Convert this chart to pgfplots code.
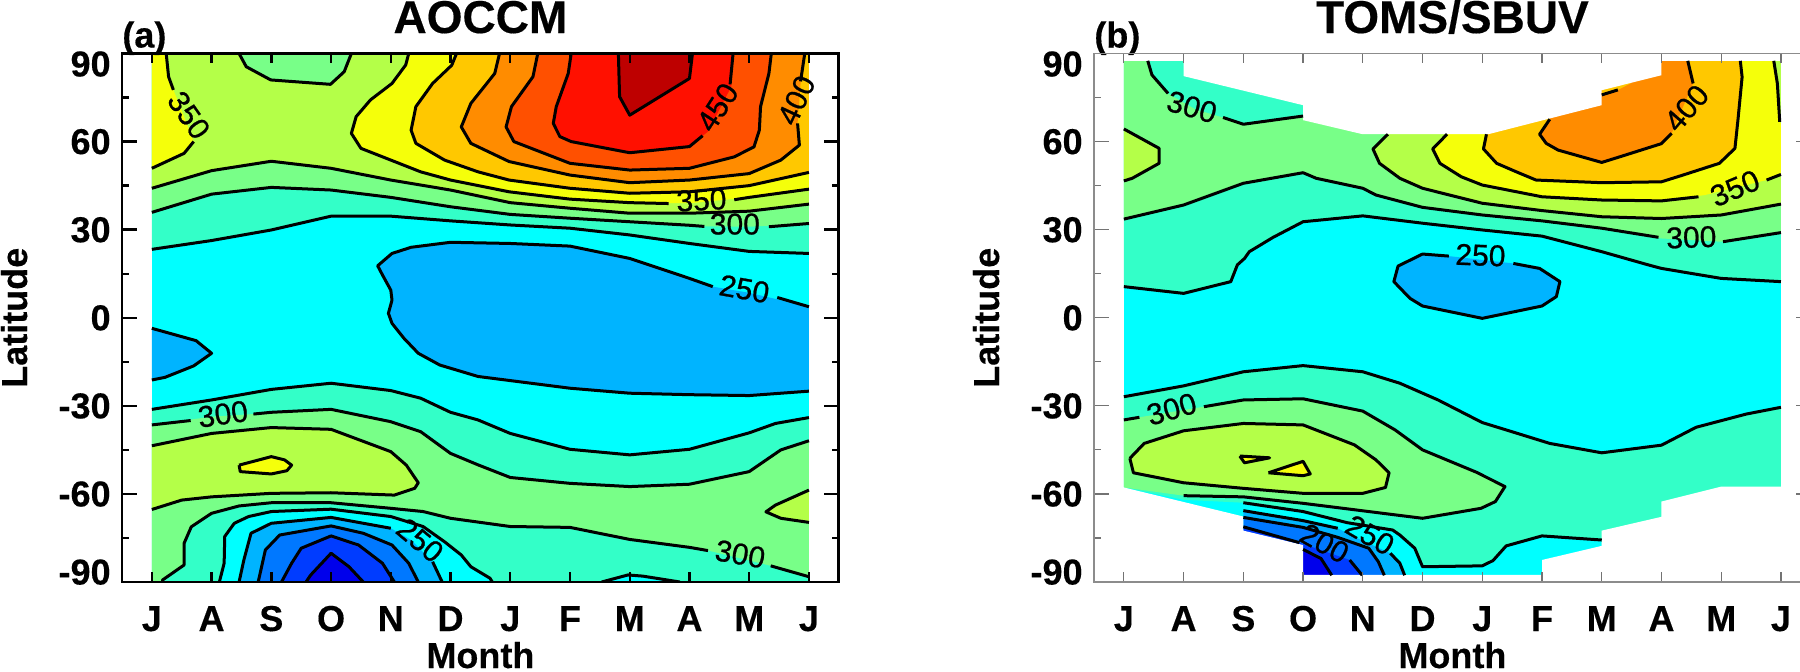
\documentclass[border=0pt]{standalone}
\usepackage{pgfplots}
\usepackage{fontspec}
\pgfplotsset{compat=1.18}
\setmainfont[BoldFeatures={FakeBold=0.35}]{Liberation Sans}
\newfontfamily\clabfont[FakeBold=0.8]{Liberation Sans}

\definecolor{cDeep}{RGB}{0,0,235}
\definecolor{cDark}{RGB}{0,60,255}
\definecolor{cMid}{RGB}{0,120,255}
\definecolor{cSky}{RGB}{0,180,255}
\definecolor{cCyan}{RGB}{0,255,255}
\definecolor{cTeal}{RGB}{51,255,200}
\definecolor{cGreen}{RGB}{120,255,136}
\definecolor{cLime}{RGB}{180,255,72}
\definecolor{cYellow}{RGB}{245,255,10}
\definecolor{cGold}{RGB}{255,200,0}
\definecolor{cOrange}{RGB}{255,140,0}
\definecolor{cRedOr}{RGB}{255,80,0}
\definecolor{cRed}{RGB}{255,16,0}
\definecolor{cDarkRed}{RGB}{190,0,0}

\newcommand{\yl}[2]{\raisebox{#1}[12.5pt][0pt]{#2}}
\newcommand{\clab}[3]{\node[rotate=#3,font=\clabfont\fontsize{15}{15}\selectfont,inner sep=0pt] at (axis cs:#1) {#2};}
% tick marks of different lengths on x, major y and minor y
\newcommand{\tickmarks}[1]{%
  \pgfplotsinvokeforeach{0,1,2,3,4,5,6,7,8,9,10,11}{
    \addplot[#1, mark=none] coordinates {(##1,-90) (##1,-86.6)};
    \addplot[#1, mark=none] coordinates {(##1,90) (##1,86.6)};
  }
  \pgfplotsinvokeforeach{-60,-30,0,30,60}{
    \addplot[#1, mark=none] coordinates {(-0.5,##1) (-0.25,##1)};
    \addplot[#1, mark=none] coordinates {(11.5,##1) (11.25,##1)};
  }
  \pgfplotsinvokeforeach{-75,-45,-15,15,45,75}{
    \addplot[#1, mark=none] coordinates {(-0.5,##1) (-0.38,##1)};
    \addplot[#1, mark=none] coordinates {(11.5,##1) (11.38,##1)};
  }
}

\pgfplotsset{
  panel/.style={
    scale only axis, width=358.4pt, height=264.25pt, anchor=south west,
    xmin=-0.5, xmax=11.5, ymin=-90, ymax=90,
    axis on top, clip mode=individual,
    major tick length=0pt,
    xtick={0,1,2,3,4,5,6,7,8,9,10,11},
    xticklabels={J,A,S,O,N,D,J,F,M,A,M,J},
    ytick={-90,-60,-30,0,30,60,90},
    yticklabels={\yl{5pt}{-90},\yl{0pt}{-60},\yl{0pt}{-30},\yl{0pt}{0},\yl{0pt}{30},\yl{0pt}{60},\yl{-5.2pt}{90}},
    ticklabel style={font=\bfseries\fontsize{18}{18}\selectfont},
    y tick label style={inner sep=0pt, xshift=-5.5pt},
    x tick label style={anchor=base, yshift=-24.5pt},
    xlabel={Month}, ylabel={Latitude},
    label style={font=\bfseries\fontsize{18}{18}\selectfont},
    xlabel style={at={(rel axis cs:0.5,0)}, anchor=base, yshift=-43pt},
    ylabel style={at={(rel axis cs:0,0.5)}, anchor=base, yshift=47.5pt},
    title style={at={(rel axis cs:0.5,1)}, anchor=base, yshift=4.25pt, font=\bfseries\fontsize{23}{23}\selectfont},
  },
  ctr/.style={black, line width=1.5pt, line join=round, line cap=butt, mark=none},
  reg/.style={fill=#1, draw=none, mark=none},
}

\begin{document}
\begin{tikzpicture}
\path[use as bounding box] (0pt,0pt) rectangle (900pt,335.5pt);
\clip (0pt,0pt) rectangle (900pt,335.5pt);

% ---------------- panel a, model
\begin{axis}[panel, at={(61pt,44.5pt)}, title={AOCCM},
  axis line style={black, line width=1.35pt}]
\addplot[reg=cCyan] coordinates {(0,-90) (11,-90) (11,90) (0,90)} -- cycle;
% north, filled from the outside in
\addplot[reg=cTeal] coordinates {(0,23.3) (1,26.3) (2,29.9) (3,34.6) (4,34.6) (5,33) (6,31.6) (7,30.5) (8,28.2) (9,25.3) (10,22.6) (11,21.9) (11,90) (0,90)} -- cycle;
\addplot[reg=cGreen] coordinates {(0,35.9) (1,42.1) (2,44.4) (3,43.5) (4,41) (5,37.8) (6,35.2) (7,33.9) (8,32.7) (9,31.2) (10,31) (11,32.1) (11,90) (0,90)} -- cycle;
\addplot[reg=cLime] coordinates {(0,44.1) (1,50.1) (2,53.3) (3,50.9) (4,46.9) (5,43.5) (6,39.2) (7,37.3) (8,35.6) (9,35.6) (10,36.3) (11,38.7) (11,90) (0,90)} -- cycle;
\addplot[reg=cGreen] coordinates {(1.46,90) (1.58,85.5) (1.99,81) (2.99,79.5) (3.22,83.8) (3.34,90)} -- cycle;
\addplot[reg=cYellow] coordinates {(0,90) (0.24,90) (0.28,82.1) (0.36,77.6) (0.55,68) (0.7,60) (0.54,56) (0,50.9)} -- cycle;
\addplot[reg=cYellow] coordinates {(4.3,90) (4.25,86.1) (4.02,79.8) (3.66,74.2) (3.42,68.5) (3.34,62.8) (3.5,57.7) (4,53.7) (4.5,49.7) (5,46.9) (5.98,42.9) (7,40.4) (8,39.2) (9,39) (10,41) (11,43.8) (11,90)} -- cycle;
\addplot[reg=cGold] coordinates {(5.1,90) (5.02,86) (4.7,79.8) (4.42,71.9) (4.34,63.9) (4.42,59.4) (4.9,53.7) (5.46,49.7) (5.98,46.9) (7,44.1) (8,42.4) (9,42.9) (10,45) (11,49.5) (11,90)} -- cycle;
\addplot[reg=cOrange] coordinates {(5.82,90) (5.74,83.2) (5.34,73) (5.18,65) (5.34,59.4) (5.98,53.2) (7,48.6) (8,46) (9,46.9) (10,49.1) (10.53,53.7) (10.84,58.8) (10.81,66.2) (10.86,79.8) (10.93,90)} -- cycle;
\addplot[reg=cRedOr] coordinates {(6.46,90) (6.38,82.1) (6.02,71.9) (5.93,65) (6.06,60) (7,52.6) (8,50.3) (9,50.9) (9.75,54.8) (10.08,58.2) (10.17,63.9) (10.19,71.9) (10.33,83.2) (10.37,90)} -- cycle;
\addplot[reg=cRed] coordinates {(7.02,90) (6.97,83.2) (6.77,71.9) (6.72,66.2) (6.83,61.7) (7.02,60) (8,56.2) (9,58.3) (9.31,63.4) (9.7,78.7) (9.73,90)} -- cycle;
\addplot[reg=cDarkRed] coordinates {(7.81,90) (7.83,75.3) (8,69) (9,81.5) (9.05,90)} -- cycle;
% south
\addplot[reg=cTeal] coordinates {(0,-31.2) (1,-28) (2,-24.4) (3,-22.3) (4,-24.8) (4.5,-27.4) (5,-32.2) (5.46,-34.8) (6,-39.4) (7,-44.8) (8,-46.7) (9,-44.8) (10,-39.2) (10.44,-36) (11,-34) (11,-90) (0,-90)} -- cycle;
\addplot[reg=cGreen] coordinates {(0,-36.5) (1,-33.7) (1.7,-32.8) (2,-32.2) (3,-31.2) (4,-35.4) (4.5,-38.8) (5,-46.2) (5.46,-50.1) (6,-54.4) (7,-56.4) (8,-57.5) (9,-56.7) (10,-52.4) (10.53,-45) (11,-41.9) (11,-90) (0,-90)} -- cycle;
\addplot[reg=cLime] coordinates {(0,-43.6) (1,-39.4) (2,-37.4) (3,-38) (4,-45.6) (4.26,-50.2) (4.46,-56.2) (4.4,-58.1) (4.06,-60.4) (3,-59.6) (2,-59.8) (1,-61) (0.5,-62.1) (0,-65.3)} -- cycle;
\addplot[reg=cYellow] coordinates {(1.46,-50.2) (2,-47.3) (2.22,-48.4) (2.34,-50.2) (2.26,-52.1) (2,-53.2) (1.48,-52.4)} -- cycle;
\addplot[reg=cLime] coordinates {(11,-58.7) (10.44,-63.8) (10.28,-66.1) (10.53,-68.3) (11,-69.7)} -- cycle;
\addplot[reg=cTeal] coordinates {(0.18,-90) (0.18,-89.3) (0.54,-84.2) (0.54,-76.8) (0.66,-71.2) (1,-66.6) (1.46,-64.1) (2,-63) (3,-63) (4,-64.9) (4.54,-66) (5,-68.3) (6,-71.1) (7,-71.4) (8,-75.5) (9,-78.2) (9.31,-79.3) (10.36,-84.5) (11,-88.2) (11,-90)} -- cycle;
\addplot[reg=cCyan] coordinates {(1.13,-90) (1.21,-83.6) (1.22,-74.5) (1.38,-70) (1.62,-67.7) (2,-66) (3,-65.2) (4,-67.7) (4.54,-71.1) (4.9,-76.3) (5.18,-80.8) (5.34,-84.8) (5.66,-88.7) (5.7,-90)} -- cycle;
\addplot[reg=cCyan] coordinates {(7.53,-90) (7.97,-87.6) (8.22,-88) (8.84,-90)} -- cycle;
\addplot[reg=cSky] coordinates {(1.46,-90) (1.54,-82.5) (1.66,-73.4) (2,-70) (3,-68) (4,-71.7) (4.34,-75.7) (4.7,-83.1) (4.86,-90)} -- cycle;
\addplot[reg=cMid] coordinates {(1.78,-90) (1.9,-79.1) (2.14,-74) (3,-70.9) (3.54,-73.4) (4.02,-77.4) (4.3,-83.6) (4.46,-90)} -- cycle;
\addplot[reg=cDark] coordinates {(2.17,-90) (2.34,-83.6) (2.5,-78.5) (3,-74.3) (3.46,-77.4) (3.86,-83.6) (4.06,-90)} -- cycle;
\addplot[reg=cDeep] coordinates {(2.58,-90) (2.66,-87.6) (3,-80.2) (3.3,-84.8) (3.54,-90)} -- cycle;
% the two 250 minima near the equator
\addplot[reg=cSky] coordinates {(11,3.75) (10,8.5) (9.39,10.6) (9,13.4) (8,20.2) (7,24.4) (6,25.3) (5,25.7) (4.34,24) (4.02,21.9) (3.78,17.7) (3.86,14.6) (4,9.4) (4.02,6) (3.96,1.5) (4.02,-1.9) (4.22,-7) (4.46,-12.1) (4.82,-16.1) (5.46,-20) (6,-21.4) (7,-24) (8,-25.7) (9,-26.2) (10,-26.5) (11,-25)} -- cycle;
\addplot[reg=cSky] coordinates {(0,-3.6) (0.74,-7.8) (1,-12.1) (0.7,-16.4) (0.22,-20.3) (0,-21.2)} -- cycle;

% contour lines
\addplot[ctr] coordinates {(0,23.3) (1,26.3) (2,29.9) (3,34.6) (4,34.6) (5,33) (6,31.6) (7,30.5) (8,28.2) (9,25.3) (10,22.6) (11,21.9)};
\addplot[ctr] coordinates {(0,35.9) (1,42.1) (2,44.4) (3,43.5) (4,41) (5,37.8) (6,35.2) (7,33.9) (8,32.7) (9,31.5) (9.25,31.1)};
\addplot[ctr] coordinates {(10.33,31) (11,32.1)};
\addplot[ctr] coordinates {(0,44.1) (1,50.1) (2,53.3) (3,50.9) (4,46.9) (5,43.5) (6,39.2) (7,37.3) (8,35.6) (9,35.6) (10,36.3) (11,38.7)};
\addplot[ctr] coordinates {(1.46,90) (1.58,85.5) (1.99,81) (2.99,79.5) (3.22,83.8) (3.34,90)};
\addplot[ctr] coordinates {(0.24,90) (0.28,82.1) (0.36,77.6)};
\addplot[ctr] coordinates {(0.7,60) (0.54,56) (0,50.9)};
\addplot[ctr] coordinates {(4.3,90) (4.25,86.1) (4.02,79.8) (3.66,74.2) (3.42,68.5) (3.34,62.8) (3.5,57.7) (4,53.7) (4.5,49.7) (5,46.9) (5.98,42.9) (7,40.4) (8,39.2) (8.65,38.9)};
\addplot[ctr] coordinates {(9.75,40.2) (10,41) (11,43.8)};
\addplot[ctr] coordinates {(5.1,90) (5.02,86) (4.7,79.8) (4.42,71.9) (4.34,63.9) (4.42,59.4) (4.9,53.7) (5.46,49.7) (5.98,46.9) (7,44.1) (8,42.4) (9,42.9) (10,45) (11,49.5)};
\addplot[ctr] coordinates {(5.82,90) (5.74,83.2) (5.34,73) (5.18,65) (5.34,59.4) (5.98,53.2) (7,48.6) (8,46) (9,46.9) (10,49.1) (10.53,53.7) (10.84,58.8) (10.81,66.2)};
\addplot[ctr] coordinates {(10.86,80.5) (10.93,90)};
\addplot[ctr] coordinates {(6.46,90) (6.38,82.1) (6.02,71.9) (5.93,65) (6.06,60) (7,52.6) (8,50.3) (9,50.9) (9.75,54.8) (10.08,58.2) (10.17,63.9) (10.19,71.9) (10.33,83.2) (10.37,90)};
\addplot[ctr] coordinates {(7.02,90) (6.97,83.2) (6.77,71.9) (6.72,66.2) (6.83,61.7) (7.02,60) (8,56.2) (9,58.3) (9.22,62)};
\addplot[ctr] coordinates {(9.68,79.5) (9.73,90)};
\addplot[ctr] coordinates {(7.81,90) (7.83,75.3) (8,69) (9,81.5) (9.05,90)};
\addplot[ctr] coordinates {(11,3.75) (10.47,6.9)};
\addplot[ctr] coordinates {(9.39,10.6) (9,13.4) (8,20.2) (7,24.4) (6,25.3) (5,25.7) (4.34,24) (4.02,21.9) (3.78,17.7) (3.86,14.6) (4,9.4) (4.02,6) (3.96,1.5) (4.02,-1.9) (4.22,-7) (4.46,-12.1) (4.82,-16.1) (5.46,-20) (6,-21.4) (7,-24) (8,-25.7) (9,-26.2) (10,-26.5) (11,-25)};
\addplot[ctr] coordinates {(0,-3.6) (0.74,-7.8) (1,-12.1) (0.7,-16.4) (0.22,-20.3) (0,-21.2)};
\addplot[ctr] coordinates {(0,-31.2) (1,-28) (2,-24.4) (3,-22.3) (4,-24.8) (4.5,-27.4) (5,-32.2) (5.46,-34.8) (6,-39.4) (7,-44.8) (8,-46.7) (9,-44.8) (10,-39.2) (10.44,-36) (11,-34)};
\addplot[ctr] coordinates {(0,-36.5) (0.65,-35)};
\addplot[ctr] coordinates {(1.7,-32.8) (2,-32.2) (3,-31.2) (4,-35.4) (4.5,-38.8) (5,-46.2) (5.46,-50.1) (6,-54.4) (7,-56.4) (8,-57.5) (9,-56.7) (10,-52.4) (10.53,-45) (11,-41.9)};
\addplot[ctr] coordinates {(0,-43.6) (1,-39.4) (2,-37.4) (3,-38) (4,-45.6) (4.26,-50.2) (4.46,-56.2) (4.4,-58.1) (4.06,-60.4) (3,-59.6) (2,-59.8) (1,-61) (0.5,-62.1) (0,-65.3)};
\addplot[ctr] coordinates {(1.46,-50.2) (2,-47.3) (2.22,-48.4) (2.34,-50.2) (2.26,-52.1) (2,-53.2) (1.48,-52.4) (1.46,-50.2)};
\addplot[ctr] coordinates {(11,-58.7) (10.44,-63.8) (10.28,-66.1) (10.53,-68.3) (11,-69.7)};
\addplot[ctr] coordinates {(0.18,-90) (0.18,-89.3) (0.54,-84.2) (0.54,-76.8) (0.66,-71.2) (1,-66.6) (1.46,-64.1) (2,-63) (3,-63) (4,-64.9) (4.54,-66) (5,-68.3) (6,-71.1) (7,-71.4) (8,-75.5) (9,-78.2) (9.31,-79.3)};
\addplot[ctr] coordinates {(10.36,-84.5) (11,-88.2)};
\addplot[ctr] coordinates {(1.13,-90) (1.21,-83.6) (1.22,-74.5) (1.38,-70) (1.62,-67.7) (2,-66) (3,-65.2) (4,-67.7) (4.54,-71.1) (4.9,-76.3) (5.18,-80.8) (5.34,-84.8) (5.66,-88.7) (5.7,-90)};
\addplot[ctr] coordinates {(7.53,-90) (7.97,-87.6) (8.22,-88) (8.84,-90)};
\addplot[ctr] coordinates {(1.46,-90) (1.54,-82.5) (1.66,-73.4) (2,-70) (3,-68) (4,-71.7)};
\addplot[ctr] coordinates {(4.7,-83.1) (4.86,-90)};
\addplot[ctr] coordinates {(1.78,-90) (1.9,-79.1) (2.14,-74) (3,-70.9) (3.54,-73.4) (4.02,-77.4) (4.3,-83.6) (4.46,-90)};
\addplot[ctr] coordinates {(2.17,-90) (2.34,-83.6) (2.5,-78.5) (3,-74.3) (3.46,-77.4) (3.86,-83.6) (4.06,-90)};
\addplot[ctr] coordinates {(2.58,-90) (2.66,-87.6) (3,-80.2) (3.3,-84.8) (3.54,-90)};
\tickmarks{black, line width=1.2pt}

\clab{0.62,69}{350}{-55}
\clab{9.47,71.7}{450}{57}
\clab{10.79,74.1}{400}{65}
\clab{9.2,40.1}{350}{3}
\clab{9.76,31.9}{300}{0}
\clab{9.92,9.8}{250}{-10}
\clab{1.19,-32.8}{300}{8}
\clab{4.49,-75.8}{250}{-40}
\clab{9.85,-80.5}{300}{-10}
\node[font=\bfseries\fontsize{18}{18}\selectfont, anchor=base west, inner sep=0pt, yshift=3pt] at (rel axis cs:0,1) {(a)};
\end{axis}

% ---------------- panel b, observations
\begin{axis}[panel, at={(547pt,44.5pt)}, title={TOMS/SBUV},
  axis line style={black!45, line width=0.6pt}]
\addplot[reg=cCyan] coordinates {(0,-90) (11,-90) (11,90) (0,90)} -- cycle;
\addplot[reg=cTeal] coordinates {(0,10.6) (1,8.3) (1.79,12.3) (1.9,18) (2.02,20.2) (2.1,22.5) (2.5,27.4) (3,32.7) (4,34.7) (5,32.2) (6,29.9) (7,27.8) (8,22.5) (8.78,18) (9,16.8) (10,13.4) (11,12.3) (11,90) (0,90)} -- cycle;
\addplot[reg=cGreen] coordinates {(0,33.6) (1,38.4) (2,45.8) (3,49.4) (3.22,47.5) (4,44.1) (4.22,41.8) (5,37.6) (6,35) (7,33) (8,30.5) (9,27) (10,25.9) (11,29) (11,90) (0,90)} -- cycle;
\addplot[reg=cTeal] coordinates {(0.4,90) (0.47,82.7) (0.74,76.4) (1.2,71) (1.66,68.2) (2,65.9) (3,68.7) (3,90)} -- cycle;
\addplot[reg=cLime] coordinates {(0,64.3) (0.59,57.7) (0.59,52.6) (0.14,47.5) (0,46.6)} -- cycle;
\addplot[reg=cLime] coordinates {(4.42,90) (4.42,62.5) (4.17,57.5) (4.28,52.6) (4.62,47.5) (5,44.1) (6,39) (7,36.5) (8,34.4) (9,33.8) (10,35) (11,38.7) (11,90)} -- cycle;
\addplot[reg=cYellow] coordinates {(5.41,90) (5.41,62.5) (5.17,57.5) (5.29,52.6) (5.65,48) (6,45.2) (7,41.2) (8,40.1) (9,39.8) (9.73,41.8) (10.76,46.9) (11,48.8) (11,66.2) (10.98,66.7) (10.94,79.8) (10.88,90)} -- cycle;
\addplot[reg=cGold] coordinates {(6.07,90) (6.07,62.5) (6.02,57.5) (6.24,52.6) (6.57,49.7) (6.9,46.9) (8,46) (9,46.3) (9.36,48.6) (9.97,52.6) (10.23,57.7) (10.28,67.3) (10.35,82) (10.32,90)} -- cycle;
\addplot[reg=cOrange] coordinates {(7.13,90) (7.13,67.6) (6.96,62.5) (7.07,59.4) (7.27,57.1) (8,52.9) (8.3,54.8) (9,59.3) (9.17,62.8) (9.53,79.8) (9.44,90)} -- cycle;
\addplot[reg=cGold] coordinates {(8,75.9) (8.27,77.6) (8.5,80) (8,80)} -- cycle;
% south
\addplot[reg=cTeal] coordinates {(0,-26.9) (1,-23.2) (2,-18.4) (3,-16.3) (4,-18.4) (4.62,-22.3) (5.26,-28) (6,-35.7) (6.4,-38.2) (7.13,-42.8) (8,-46) (9,-43.4) (9.58,-37.3) (10.42,-32.8) (11,-30.5) (11,-90) (8,-90) (8,-75.7) (7,-74.3) (6.4,-77.7) (6.18,-82.7) (6,-84.5) (5,-84.8) (4.87,-78.5) (4.62,-74) (4.5,-72.3) (3.74,-69.8) (3,-66) (2,-63) (1,-62) (0,-57.8)} -- cycle;
\addplot[reg=cGreen] coordinates {(0,-34.8) (0.26,-33.9) (1.34,-30.3) (2,-28) (3,-27.6) (4,-31.8) (4.54,-38.2) (5,-45) (5.9,-52.6) (6.38,-57.5) (6.22,-62.6) (5.98,-64.9) (5,-68.3) (3,-63.2) (2,-61) (1,-60.6) (0,-57.8)} -- cycle;
\addplot[reg=cLime] coordinates {(0.1,-47.9) (0.34,-42.8) (1,-38.5) (2,-36) (3,-36.5) (3.86,-43.3) (4.22,-48.4) (4.44,-52.8) (4.38,-57.8) (4,-59.8) (3,-59.8) (2,-58.1) (1,-56.2) (0.16,-52.8)} -- cycle;
\addplot[reg=cYellow] coordinates {(1.94,-47.1) (2.44,-47.7) (2.02,-49.4)} -- cycle;
\addplot[reg=cYellow] coordinates {(2.42,-52.8) (3,-48.9) (3.12,-53.2) (3,-53.8)} -- cycle;
\addplot[reg=cSky] coordinates {(2,-65.7) (3,-69.1) (3.58,-71.7) (3.9,-75) (4.46,-80.2) (4.62,-83.6) (4.7,-87.7) (4.7,-90) (2,-90)} -- cycle;
\addplot[reg=cMid] coordinates {(2,-68) (3,-71.4) (3.58,-74.8) (4.1,-78.5) (4.26,-83.1) (4.36,-87.7) (4.36,-90) (2,-90)} -- cycle;
\addplot[reg=cDark] coordinates {(2,-71.2) (2.94,-76.6) (3.78,-82.5) (3.99,-87.7) (3.99,-90) (2,-90)} -- cycle;
\addplot[reg=cDeep] coordinates {(3,-78.9) (3.3,-82) (3.48,-87.7) (3.48,-90) (3,-90)} -- cycle;
\addplot[reg=cSky] coordinates {(5,21.7) (4.59,17.6) (4.52,12.3) (4.79,6.6) (5,4) (6,-0.2) (7,4) (7.24,7.2) (7.3,12.3) (6.96,16.8) (6.52,18.5) (5.44,21)} -- cycle;
% white where the record has no data
\addplot[reg=white] coordinates {(-0.1,87.5) (1,87.5) (1,82.3) (3,72.4) (3,67.3) (4,62.5) (6.1,62.5) (8,72.4) (8,77.5) (9,82.6) (9,87.5) (11.1,87.5) (11.1,91) (-0.1,91)} -- cycle;
\addplot[reg=white] coordinates {(-0.1,-57.8) (0,-57.8) (2,-67.7) (2,-72.5) (3,-77.4) (3,-87.6) (7,-87.6) (7,-82.5) (8,-77.7) (8,-72.5) (9,-67.8) (9,-62.6) (10,-57.5) (11.1,-57.5) (11.1,-91) (-0.1,-91)} -- cycle;

% contour lines
\addplot[ctr] coordinates {(0,10.6) (1,8.3) (1.79,12.3) (1.9,18) (2.02,20.2) (2.1,22.5) (2.5,27.4) (3,32.7) (4,34.7) (5,32.2) (6,29.9) (7,27.8) (8,22.5) (8.78,18) (9,16.8) (10,13.4) (11,12.3)};
\addplot[ctr] coordinates {(0,33.6) (1,38.4) (2,45.8) (3,49.4) (3.22,47.5) (4,44.1) (4.22,41.8) (5,37.6) (6,35) (7,33) (8,30.5) (8.95,27.4)};
\addplot[ctr] coordinates {(10.03,25.9) (11,29)};
\addplot[ctr] coordinates {(0.4,87.5) (0.47,82.7) (0.74,76.4)};
\addplot[ctr] coordinates {(1.66,68.2) (2,65.9) (3,68.7)};
\addplot[ctr] coordinates {(0,64.3) (0.59,57.7) (0.59,52.6) (0.14,47.5) (0,46.6)};
\addplot[ctr] coordinates {(4.42,62.5) (4.17,57.5) (4.28,52.6) (4.62,47.5) (5,44.1) (6,39) (7,36.5) (8,34.4) (9,33.8) (10,35) (11,38.7)};
\addplot[ctr] coordinates {(5.41,62.5) (5.17,57.5) (5.29,52.6) (5.65,48) (6,45.2) (7,41.2) (8,40.1) (9,39.8) (9.62,41.2)};
\addplot[ctr] coordinates {(10.76,46.9) (11,48.8)};
\addplot[ctr] coordinates {(10.88,87.5) (10.94,79.8) (10.98,66.7)};
\addplot[ctr] coordinates {(6.07,62.5) (6.02,57.5) (6.24,52.6) (6.57,49.7) (6.9,46.9) (8,46) (9,46.3) (9.36,48.6) (9.97,52.6) (10.23,57.7) (10.28,67.3) (10.35,82) (10.32,87.5)};
\addplot[ctr] coordinates {(7.13,67.6) (6.96,62.5) (7.07,59.4) (7.27,57.1) (8,52.9) (8.3,54.8) (9,59.3) (9.17,62.8)};
\addplot[ctr] coordinates {(9.53,79.8) (9.44,87.5)};
\addplot[ctr] coordinates {(8,75.9) (8.27,77.6)};
\addplot[ctr] coordinates {(0,-26.9) (1,-23.2) (2,-18.4) (3,-16.3) (4,-18.4) (4.62,-22.3) (5.26,-28) (6,-35.7) (6.4,-38.2) (7.13,-42.8) (8,-46) (9,-43.4) (9.58,-37.3) (10.42,-32.8) (11,-30.5)};
\addplot[ctr] coordinates {(0,-34.8) (0.26,-33.9)};
\addplot[ctr] coordinates {(1.34,-30.3) (2,-28) (3,-27.6) (4,-31.8) (4.54,-38.2) (5,-45) (5.9,-52.6) (6.38,-57.5) (6.22,-62.6) (5.98,-64.9) (5,-68.3) (3,-63.2) (2,-61) (1,-60.6)};
\addplot[ctr] coordinates {(0.1,-47.9) (0.34,-42.8) (1,-38.5) (2,-36) (3,-36.5) (3.86,-43.3) (4.22,-48.4) (4.44,-52.8) (4.38,-57.8) (4,-59.8) (3,-59.8) (2,-58.1) (1,-56.2) (0.16,-52.8) (0.1,-47.9)};
\addplot[ctr] coordinates {(1.94,-47.1) (2.44,-47.7) (2.02,-49.4) (1.94,-47.1)};
\addplot[ctr] coordinates {(2.42,-52.8) (3,-48.9) (3.12,-53.2) (3,-53.8) (2.42,-52.8)};
\addplot[ctr] coordinates {(2,-63) (3,-66) (3.74,-69.8) (4.5,-72.3) (4.62,-74) (4.87,-78.5) (5,-84.8) (6,-84.5) (6.18,-82.7) (6.4,-77.7) (7,-74.3) (8,-75.7)};
\addplot[ctr] coordinates {(2,-65.7) (3,-69.1) (3.58,-71.7)};
\addplot[ctr] coordinates {(4.46,-80.2) (4.62,-83.6) (4.7,-87.7)};
\addplot[ctr] coordinates {(2,-68) (3,-71.4) (3.58,-74.8) (4.1,-78.5) (4.26,-83.1) (4.36,-87.7)};
\addplot[ctr] coordinates {(2,-71.2) (2.94,-76.6)};
\addplot[ctr] coordinates {(3.78,-82.5) (3.99,-87.7)};
\addplot[ctr] coordinates {(3,-78.9) (3.3,-82) (3.48,-87.7)};
\addplot[ctr] coordinates {(5.44,21) (5,21.7) (4.59,17.6) (4.52,12.3) (4.79,6.6) (5,4) (6,-0.2) (7,4) (7.24,7.2) (7.3,12.3) (6.96,16.8) (6.52,18.5)};
\tickmarks{black!55, line width=0.6pt}

\clab{1.14,71.8}{300}{-16}
\clab{5.97,21.3}{250}{-2}
\clab{9.42,71.4}{400}{49}
\clab{10.23,44.1}{350}{23}
\clab{9.5,27.4}{300}{2}
\clab{0.8,-31.1}{300}{16}
\clab{4.12,-74}{250}{-30}
\clab{3.36,-76.8}{200}{-29}
\draw[black!75, line width=0.6pt] (rel axis cs:0,0) -- (rel axis cs:1,0);
\node[font=\bfseries\fontsize{18}{18}\selectfont, anchor=base west, inner sep=0pt, yshift=3pt] at (rel axis cs:0,1) {(b)};
\end{axis}
\end{tikzpicture}
\end{document}
